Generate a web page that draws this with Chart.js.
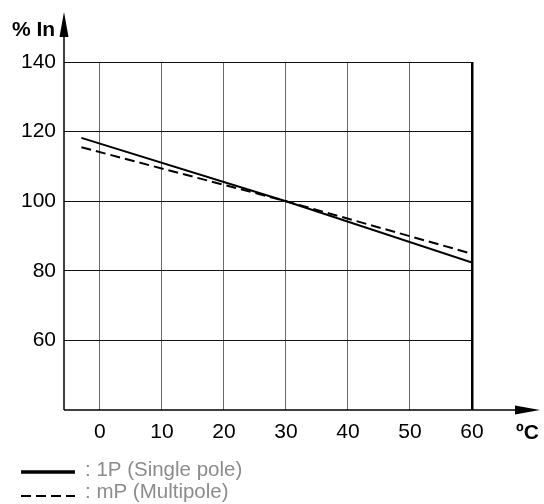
<!DOCTYPE html>
<html>
<head>
<meta charset="utf-8">
<script src="https://cdn.jsdelivr.net/npm/chart.js@4"></script>
<style>
  html, body { margin: 0; padding: 0; background: #fff; }
  #wrap { width: 544px; height: 504px; position: relative; }
</style>
</head>
<body>
<div id="wrap"><canvas id="ratingChart"></canvas></div>
<script>
// data
const temps = [-3, 30, 60];
const singlePole = [118.2, 100, 82.4];
const multiPole = [115.5, 100, 84.9];
const xTicks = [0, 10, 20, 30, 40, 50, 60];
const yTicks = [60, 80, 100, 120, 140];
const seriesLabels = [': 1P (Single pole)', ': mP (Multipole)'];

const FONT = '"Liberation Sans", Arial, sans-serif';

function toPoints(values) {
    return temps.map((t, i) => ({ x: t, y: values[i] }));
}

// axes with arrows, axis titles and the legend under the chart
const decorPlugin = {
    id: 'decor',
    afterDraw(chart) {
        const ctx = chart.ctx;
        const area = chart.chartArea;
        ctx.save();
        ctx.strokeStyle = '#000';
        ctx.fillStyle = '#000';
        ctx.lineWidth = 1.5;

        // y axis + arrow
        ctx.beginPath();
        ctx.moveTo(area.left, area.bottom);
        ctx.lineTo(area.left, 34);
        ctx.stroke();
        ctx.beginPath();
        ctx.moveTo(area.left, 12);
        ctx.lineTo(area.left - 4.5, 37);
        ctx.lineTo(area.left + 4.5, 37);
        ctx.closePath();
        ctx.fill();

        // x axis + arrow
        ctx.beginPath();
        ctx.moveTo(area.left, area.bottom);
        ctx.lineTo(518, area.bottom);
        ctx.stroke();
        ctx.beginPath();
        ctx.moveTo(540, area.bottom);
        ctx.lineTo(515, area.bottom - 4.5);
        ctx.lineTo(515, area.bottom + 4.5);
        ctx.closePath();
        ctx.fill();

        // axis titles
        ctx.font = 'bold 21px ' + FONT;
        ctx.textBaseline = 'alphabetic';
        ctx.textAlign = 'left';
        ctx.fillText('% In', 12, 36);
        ctx.fillText('ºC', 516, 439);

        // legend
        chart.data.datasets.forEach((ds, i) => {
            const y = 472 + i * 24;
            ctx.strokeStyle = '#000';
            ctx.lineWidth = i === 0 ? 3.5 : 2;
            ctx.setLineDash(ds.borderDash || []);
            ctx.beginPath();
            ctx.moveTo(21, y);
            ctx.lineTo(75, y);
            ctx.stroke();
            ctx.setLineDash([]);
            ctx.fillStyle = '#8c8c8c';
            ctx.font = '20.5px ' + FONT;
            ctx.textBaseline = 'alphabetic';
            ctx.fillText(ds.label, 85, 476 + i * 22);
        });
        ctx.restore();
    }
};

new Chart(document.getElementById('ratingChart'), {
    type: 'scatter',
    data: {
        datasets: [
            {
                label: seriesLabels[0],
                data: toPoints(singlePole),
                showLine: true,
                borderColor: '#000',
                borderWidth: 2,
                pointRadius: 0
            },
            {
                label: seriesLabels[1],
                data: toPoints(multiPole),
                showLine: true,
                borderColor: '#000',
                borderWidth: 2,
                borderDash: [10, 5],
                pointRadius: 0
            }
        ]
    },
    options: {
        responsive: true,
        maintainAspectRatio: false,
        animation: false,
        layout: { padding: { top: 62, right: 72, bottom: 0, left: 0 } },
        plugins: {
            legend: { display: false },
            tooltip: { enabled: false }
        },
        scales: {
            x: {
                type: 'linear',
                min: -5.8,
                max: 60,
                afterBuildTicks: (scale) => { scale.ticks = xTicks.map(v => ({ value: v })); },
                afterFit: (scale) => { scale.height = 94; },
                border: { display: false },
                grid: {
                    drawTicks: false,
                    color: (c) => c.tick && c.tick.value === 60 ? '#000' : '#6a6a6a',
                    lineWidth: (c) => c.tick && c.tick.value === 60 ? 2.5 : 1
                },
                ticks: {
                    padding: 10,
                    color: '#000',
                    font: { family: FONT, size: 21 },
                    maxRotation: 0
                }
            },
            y: {
                type: 'linear',
                min: 40,
                max: 140,
                afterBuildTicks: (scale) => { scale.ticks = yTicks.map(v => ({ value: v })); },
                afterFit: (scale) => { scale.width = 64; },
                border: { display: false },
                grid: {
                    drawTicks: false,
                    color: '#111',
                    lineWidth: 1
                },
                ticks: {
                    padding: 8,
                    color: '#000',
                    font: { family: FONT, size: 21 }
                }
            }
        }
    },
    plugins: [decorPlugin]
});
</script>
</body>
</html>
